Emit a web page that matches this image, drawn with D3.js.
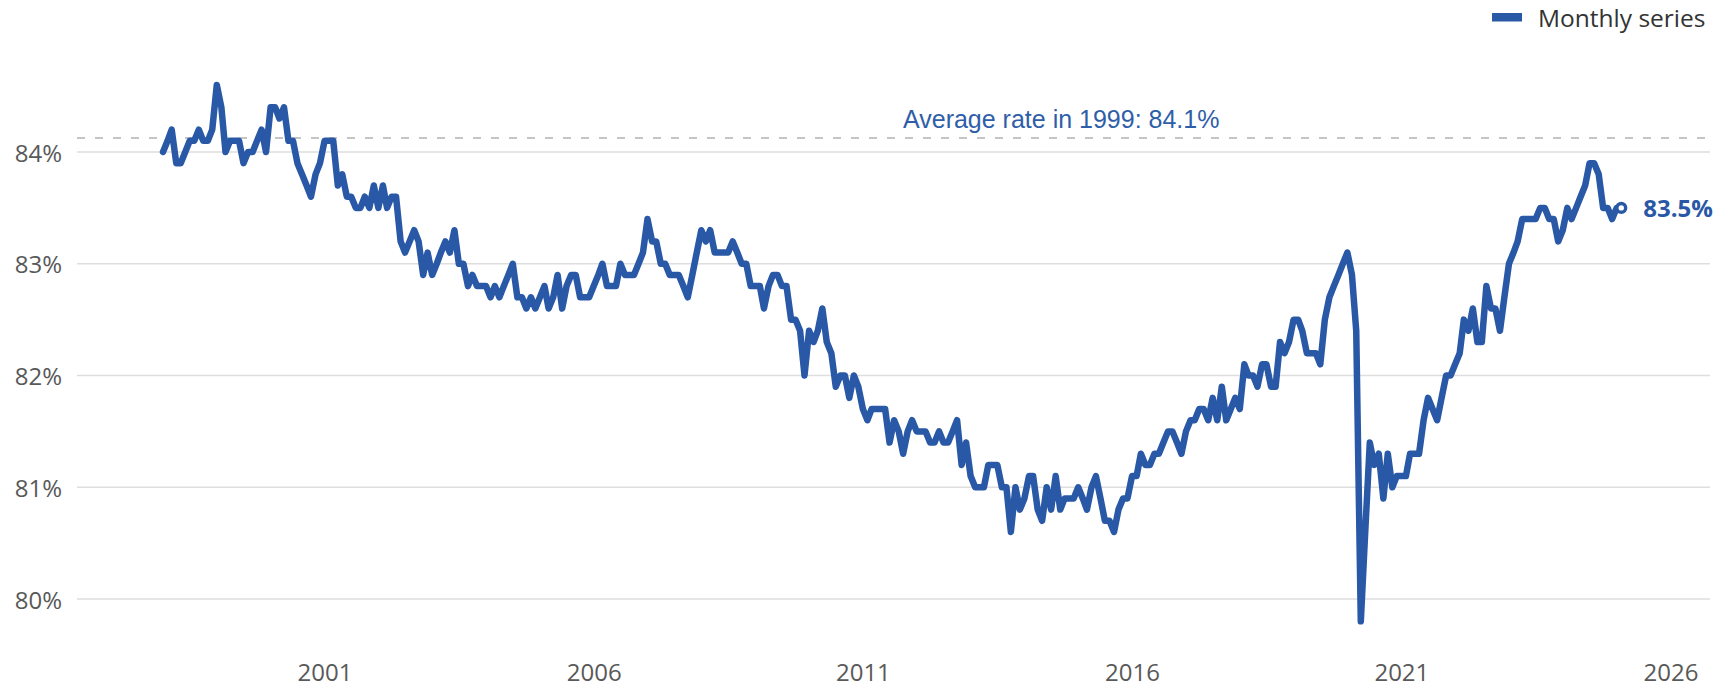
<!DOCTYPE html>
<html>
<head>
<meta charset="utf-8">
<script src="https://d3js.org/d3.v7.min.js"></script>
<style>
  body { margin: 0; background: #fff; }
  svg { display: block; }
</style>
</head>
<body>
<div id="chart"></div>
<script>
// monthly series, first value = Jan 1998
var firstMonth = "1998-01";
var rate = [
  84.0, 84.1, 84.2, 83.9, 83.9, 84.0, 84.1, 84.1, 84.2, 84.1, 84.1, 84.2,
  84.6, 84.4, 84.0, 84.1, 84.1, 84.1, 83.9, 84.0, 84.0, 84.1, 84.2, 84.0,
  84.4, 84.4, 84.3, 84.4, 84.1, 84.1, 83.9, 83.8, 83.7, 83.6, 83.8, 83.9,
  84.1, 84.1, 84.1, 83.7, 83.8, 83.6, 83.6, 83.5, 83.5, 83.6, 83.5, 83.7,
  83.5, 83.7, 83.5, 83.6, 83.6, 83.2, 83.1, 83.2, 83.3, 83.2, 82.9, 83.1,
  82.9, 83.0, 83.1, 83.2, 83.1, 83.3, 83.0, 83.0, 82.8, 82.9, 82.8, 82.8,
  82.8, 82.7, 82.8, 82.7, 82.8, 82.9, 83.0, 82.7, 82.7, 82.6, 82.7, 82.6,
  82.7, 82.8, 82.6, 82.7, 82.9, 82.6, 82.8, 82.9, 82.9, 82.7, 82.7, 82.7,
  82.8, 82.9, 83.0, 82.8, 82.8, 82.8, 83.0, 82.9, 82.9, 82.9, 83.0, 83.1,
  83.4, 83.2, 83.2, 83.0, 83.0, 82.9, 82.9, 82.9, 82.8, 82.7, 82.9, 83.1,
  83.3, 83.2, 83.3, 83.1, 83.1, 83.1, 83.1, 83.2, 83.1, 83.0, 83.0, 82.8,
  82.8, 82.8, 82.6, 82.8, 82.9, 82.9, 82.8, 82.8, 82.5, 82.5, 82.4, 82.0,
  82.4, 82.3, 82.4, 82.6, 82.3, 82.2, 81.9, 82.0, 82.0, 81.8, 82.0, 81.9,
  81.7, 81.6, 81.7, 81.7, 81.7, 81.7, 81.4, 81.6, 81.5, 81.3, 81.5, 81.6,
  81.5, 81.5, 81.5, 81.4, 81.4, 81.5, 81.4, 81.4, 81.5, 81.6, 81.2, 81.4,
  81.1, 81.0, 81.0, 81.0, 81.2, 81.2, 81.2, 81.0, 81.0, 80.6, 81.0, 80.8,
  80.9, 81.1, 81.1, 80.8, 80.7, 81.0, 80.8, 81.1, 80.8, 80.9, 80.9, 80.9,
  81.0, 80.9, 80.8, 81.0, 81.1, 80.9, 80.7, 80.7, 80.6, 80.8, 80.9, 80.9,
  81.1, 81.1, 81.3, 81.2, 81.2, 81.3, 81.3, 81.4, 81.5, 81.5, 81.4, 81.3,
  81.5, 81.6, 81.6, 81.7, 81.7, 81.6, 81.8, 81.6, 81.9, 81.6, 81.7, 81.8,
  81.7, 82.1, 82.0, 82.0, 81.9, 82.1, 82.1, 81.9, 81.9, 82.3, 82.2, 82.3,
  82.5, 82.5, 82.4, 82.2, 82.2, 82.2, 82.1, 82.5, 82.7, 82.8, 82.9, 83.0,
  83.1, 82.9, 82.4, 79.8, 80.6, 81.4, 81.2, 81.3, 80.9, 81.3, 81.0, 81.1,
  81.1, 81.1, 81.3, 81.3, 81.3, 81.6, 81.8, 81.7, 81.6, 81.8, 82.0, 82.0,
  82.1, 82.2, 82.5, 82.4, 82.6, 82.3, 82.3, 82.8, 82.6, 82.6, 82.4, 82.7,
  83.0, 83.1, 83.2, 83.4, 83.4, 83.4, 83.4, 83.5, 83.5, 83.4, 83.4, 83.2,
  83.3, 83.5, 83.4, 83.5, 83.6, 83.7, 83.9, 83.9, 83.8, 83.5, 83.5, 83.4,
  83.5, 83.5
];
var yTicks = [80, 81, 82, 83, 84];
var xTickYears = [2001, 2006, 2011, 2016, 2021, 2026];
var avgYear = 1999;
var seriesName = "Monthly series";

var blue = "#2858a6";
var width = 1733, height = 688;

var start = d3.timeParse("%Y-%m")(firstMonth);
var data = rate.map(function(v, i) {
    return { date: d3.timeMonth.offset(start, i), value: v };
});

var avgRate = d3.mean(data.filter(function(d) {
    return d.date.getFullYear() == avgYear;
}), function(d) { return d.value; });

var xScale = d3.scaleTime()
    .domain([new Date(1998, 0, 1), new Date(2026, 0, 1)])
    .range([163, 1670.5]);

var yScale = d3.scaleLinear()
    .domain([80, 84])
    .range([599, 152]);

var svg = d3.select("#chart").append("svg")
    .attr("width", width)
    .attr("height", height);

// gridlines
svg.append("g")
    .selectAll("line")
    .data(yTicks)
    .enter().append("line")
    .attr("x1", 77)
    .attr("x2", 1710)
    .attr("y1", function(d) { return yScale(d); })
    .attr("y2", function(d) { return yScale(d); })
    .attr("stroke", "#dedede")
    .attr("stroke-width", 1.5);

// y axis labels
var yAxis = d3.axisLeft(yScale)
    .tickValues(yTicks)
    .tickSize(0)
    .tickFormat(function(d) { return d + "%"; });

var gy = svg.append("g")
    .attr("transform", "translate(62,0)")
    .call(yAxis);
gy.select(".domain").remove();
gy.selectAll("text")
    .attr("x", 0)
    .attr("dy", "0.375em")
    .style("font-family", "'Open Sans', 'Noto Sans', sans-serif")
    .style("font-size", "24px")
    .style("fill", "#595959");

// x axis labels
var xAxis = d3.axisBottom(xScale)
    .tickValues(xTickYears.map(function(y) { return new Date(y, 0, 1); }))
    .tickSize(0)
    .tickFormat(d3.timeFormat("%Y"));

var gx = svg.append("g")
    .attr("transform", "translate(0,681)")
    .call(xAxis);
gx.select(".domain").remove();
gx.selectAll("text")
    .attr("y", 0)
    .attr("dy", null)
    .style("font-family", "'Open Sans', 'Noto Sans', sans-serif")
    .style("font-size", "24px")
    .style("fill", "#595959");

// average line
svg.append("line")
    .attr("x1", 77)
    .attr("x2", 1708)
    .attr("y1", yScale(avgRate))
    .attr("y2", yScale(avgRate))
    .attr("stroke", "#c4c4c4")
    .attr("stroke-width", 2)
    .attr("stroke-dasharray", "8,10");

svg.append("text")
    .attr("x", 903)
    .attr("y", yScale(avgRate) - 10)
    .style("font-family", "'Liberation Sans', Arial, sans-serif")
    .style("font-size", "25px")
    .style("fill", "#2f5ea8")
    .text("Average rate in " + avgYear + ": " + d3.format(".1f")(avgRate) + "%");

// series line
var line = d3.line()
    .x(function(d) { return xScale(d.date); })
    .y(function(d) { return yScale(d.value); });

svg.append("path")
    .datum(data)
    .attr("d", line)
    .attr("fill", "none")
    .attr("stroke", blue)
    .attr("stroke-width", 6.5)
    .attr("stroke-linejoin", "round")
    .attr("stroke-linecap", "round");

// last point marker + label
var last = data[data.length - 1];
svg.append("circle")
    .attr("cx", xScale(last.date))
    .attr("cy", yScale(last.value))
    .attr("r", 4.4)
    .attr("fill", "#fff")
    .attr("stroke", blue)
    .attr("stroke-width", 3.4);

svg.append("text")
    .attr("x", xScale(last.date) + 22)
    .attr("y", yScale(last.value))
    .attr("dy", "0.39em")
    .style("font-family", "'Open Sans', 'Noto Sans', sans-serif")
    .style("font-size", "24px")
    .style("font-weight", "bold")
    .style("fill", blue)
    .text(d3.format(".1f")(last.value) + "%");

// legend
var legend = svg.append("g");
legend.append("rect")
    .attr("x", 1492)
    .attr("y", 13)
    .attr("width", 30)
    .attr("height", 8.5)
    .attr("fill", blue);
legend.append("text")
    .attr("x", 1538)
    .attr("y", 27)
    .style("font-family", "'Open Sans', 'Noto Sans', sans-serif")
    .style("font-size", "24.5px")
    .style("fill", "#333")
    .text(seriesName);
</script>
</body>
</html>
